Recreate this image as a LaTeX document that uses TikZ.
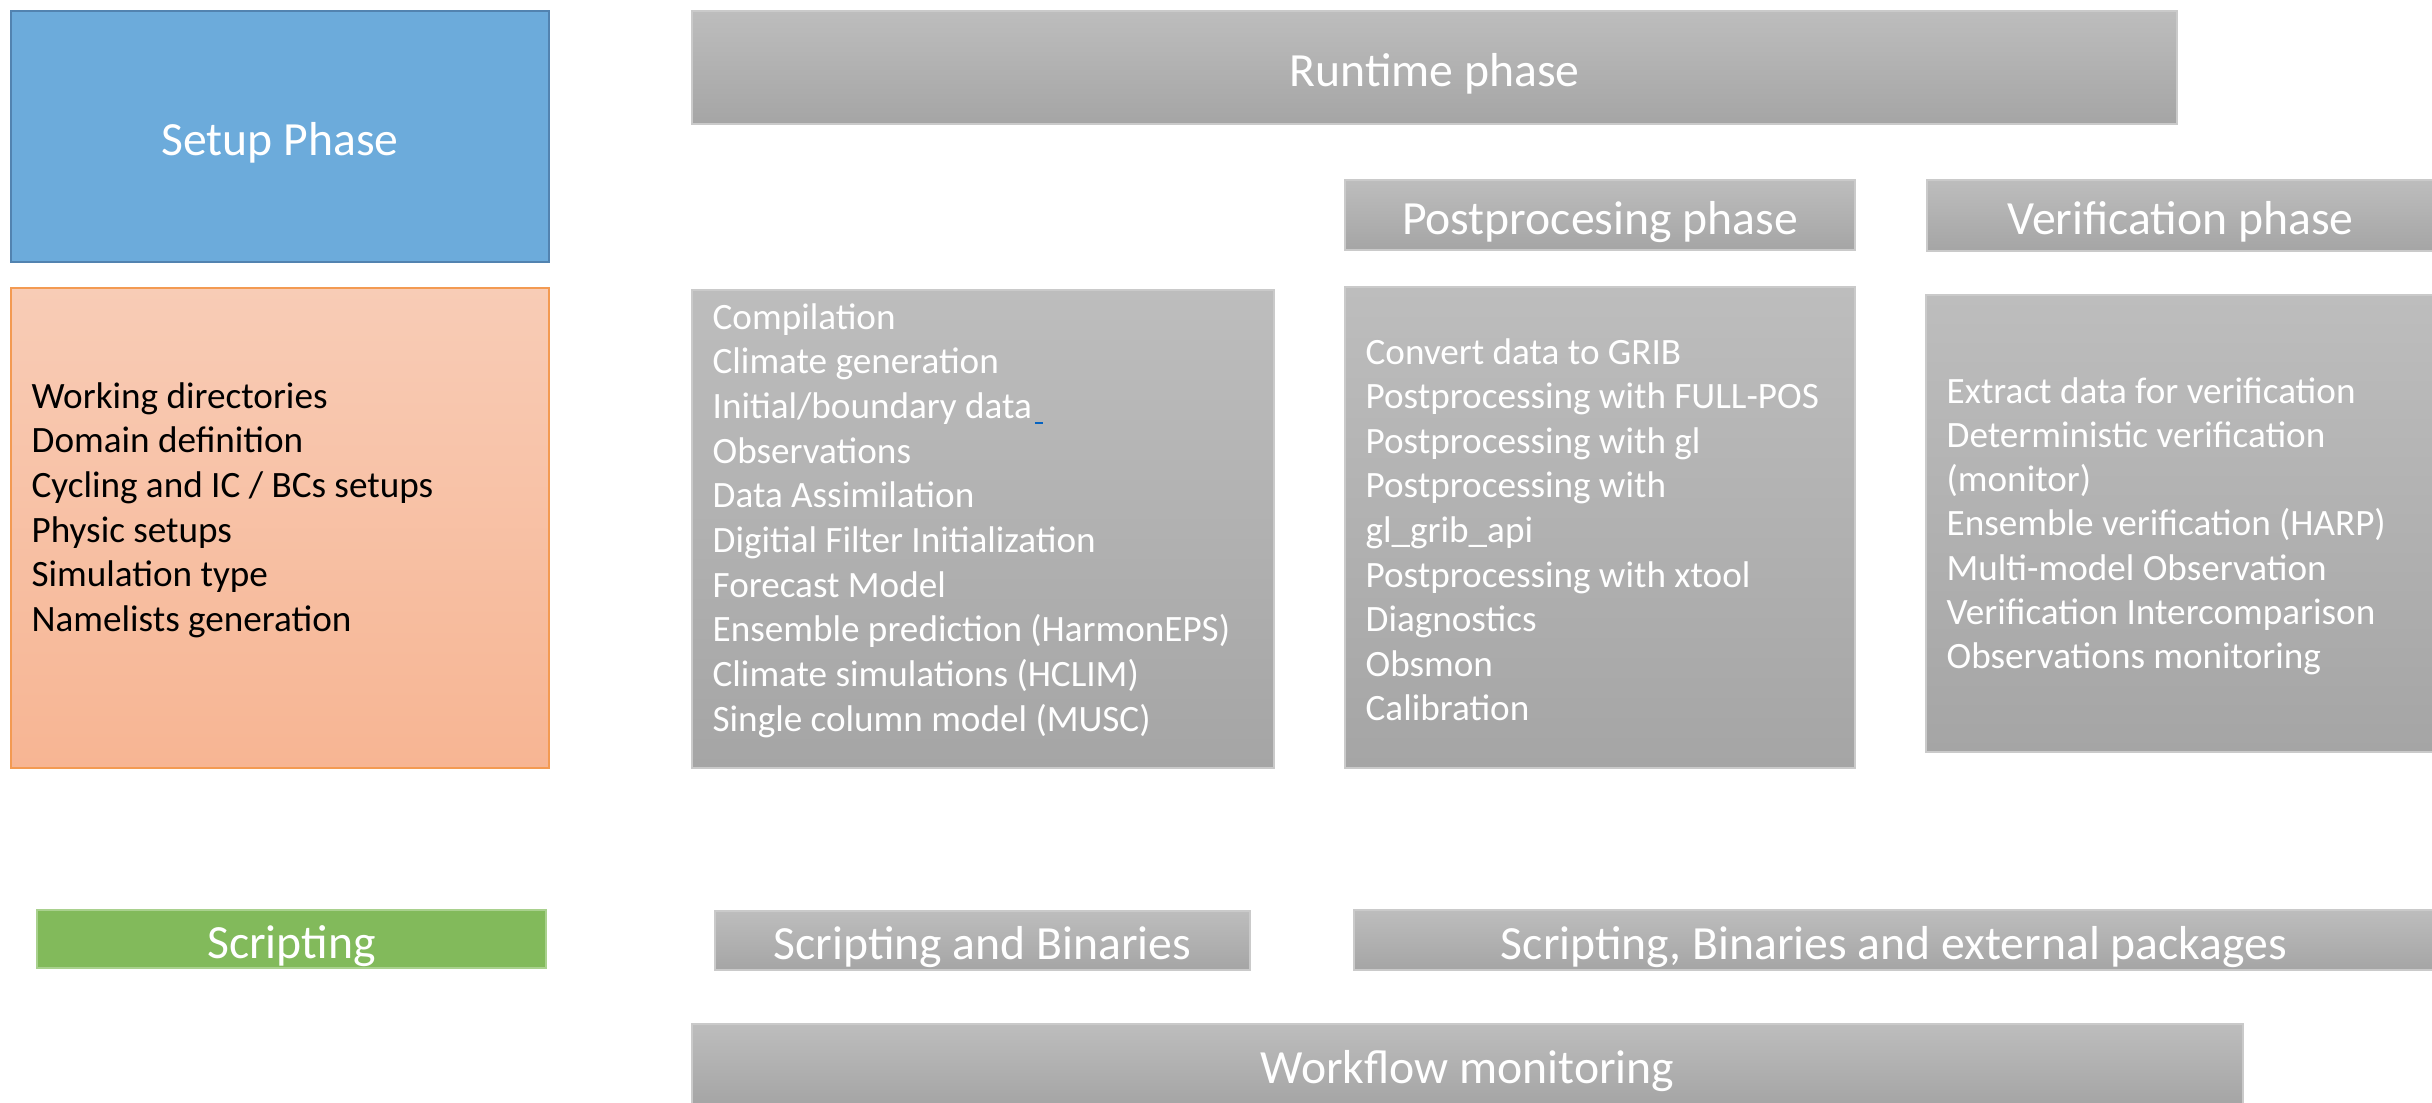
\documentclass[tikz,border=0pt]{standalone}
\usepackage{fontspec}
\setmainfont{Carlito}

\definecolor{setupblue}{HTML}{6CABDB}
\definecolor{setupedge}{HTML}{5283B0}
\definecolor{peachtop}{HTML}{F8CCB6}
\definecolor{peachbot}{HTML}{F7B593}
\definecolor{peachedge}{HTML}{F39A52}
\definecolor{greytop}{HTML}{BDBDBD}
\definecolor{greybot}{HTML}{A5A5A5}
\definecolor{greyedge}{HTML}{CACACA}
\definecolor{scriptgreen}{HTML}{82BA5B}
\definecolor{greenedge}{HTML}{A9D18E}
\definecolor{linkblue}{HTML}{0563C1}

\tikzset{
  panel/.style={rectangle, inner sep=0pt, outer sep=0pt, line width=0.45pt},
  greypanel/.style={panel, draw=greyedge, top color=greytop, bottom color=greybot},
  title/.style={text=white, font=\fontsize{14.3pt}{17pt}\selectfont,
    text height=12.9pt, text depth=1.4pt},
  item/.style={anchor=base west, inner sep=0pt, font=\fontsize{11.15pt}{13.4pt}\selectfont},
  lightitem/.style={item, text=white},
}

\begin{document}
\begin{tikzpicture}[x=0.3pt, y=-0.3pt]
  % page
  \fill[white] (0,0) rectangle (2432,1102);
  \useasboundingbox (0,0) rectangle (2432,1102);

  % setup column
  \node[panel, draw=setupedge, fill=setupblue, line width=0.75pt, title,
        minimum width=161.4pt, minimum height=75.3pt] (setup) at (280,136.5) {Setup Phase};
  \node[panel, draw=peachedge, top color=peachtop, bottom color=peachbot, line width=0.6pt,
        minimum width=161.4pt, minimum height=144pt] (setupitems) at (280,528) {};

  % runtime headers
  \node[greypanel, title, minimum width=445.5pt, minimum height=33.9pt] (runtime) at (1434.5,67.5) {Runtime phase};
  \node[greypanel, title, minimum width=153pt, minimum height=21pt] (post) at (1600,215) {Postprocesing phase};
  \node[greypanel, title, minimum width=152.1pt, minimum height=21.3pt] (verif) at (2180.5,215.5) {Verification phase};

  % task lists
  \node[greypanel, minimum width=174.6pt, minimum height=143.4pt] (runitems) at (983,529) {};
  \node[greypanel, minimum width=153pt, minimum height=144.3pt] (postitems) at (1600,527.5) {};
  \node[greypanel, minimum width=152.4pt, minimum height=137.1pt] (verifitems) at (2180,523.5) {};

  \foreach \t [count=\i from 0] in {Working directories, Domain definition,
      Cycling and IC / BCs setups, Physic setups, Simulation type, Namelists generation}
    \node[item] (su-\i) at (31,{408+44.7*\i}) {\t};

  \foreach \t [count=\i from 0] in {Compilation, Climate generation, Initial/boundary data,
      Observations, Data Assimilation, Digitial Filter Initialization, Forecast Model,
      Ensemble prediction (HarmonEPS), Climate simulations (HCLIM), Single column model (MUSC)}
    \node[lightitem] (rt-\i) at (712,{329+44.7*\i}) {\t};
  % hyperlink underline trailing the boundary-data entry
  \draw[linkblue, line width=0.6pt] ([xshift=0.6pt, yshift=-1.5pt]rt-2.base east) -- ++(8,0);

  \foreach \t [count=\i from 0] in {Convert data to GRIB, Postprocessing with FULL-POS,
      Postprocessing with gl, Postprocessing with, gl\_grib\_api, Postprocessing with xtool,
      Diagnostics, Obsmon, Calibration}
    \node[lightitem] (pp-\i) at (1365,{364+44.6*\i}) {\t};

  \foreach \t [count=\i from 0] in {Extract data for verification, Deterministic verification,
      (monitor), Ensemble verification (HARP), Multi-model Observation,
      Verification Intercomparison, Observations monitoring}
    \node[lightitem] (vf-\i) at (1946,{403+44.3*\i}) {\t};

  % tooling bars
  \node[panel, draw=greenedge, fill=scriptgreen, title,
        minimum width=152.7pt, minimum height=17.4pt] (script) at (291.5,939) {Scripting};
  \node[greypanel, title, minimum width=160.5pt, minimum height=17.7pt] (scriptbin) at (982.5,940.5) {Scripting and Binaries};
  \node[greypanel, title, minimum width=324pt, minimum height=18pt] (scriptext) at (1894,940) {Scripting, Binaries and external packages};
  \node[greypanel, title, minimum width=465.3pt, minimum height=24pt] (workflow) at (1467.5,1064) {Workflow monitoring};
\end{tikzpicture}
\end{document}
